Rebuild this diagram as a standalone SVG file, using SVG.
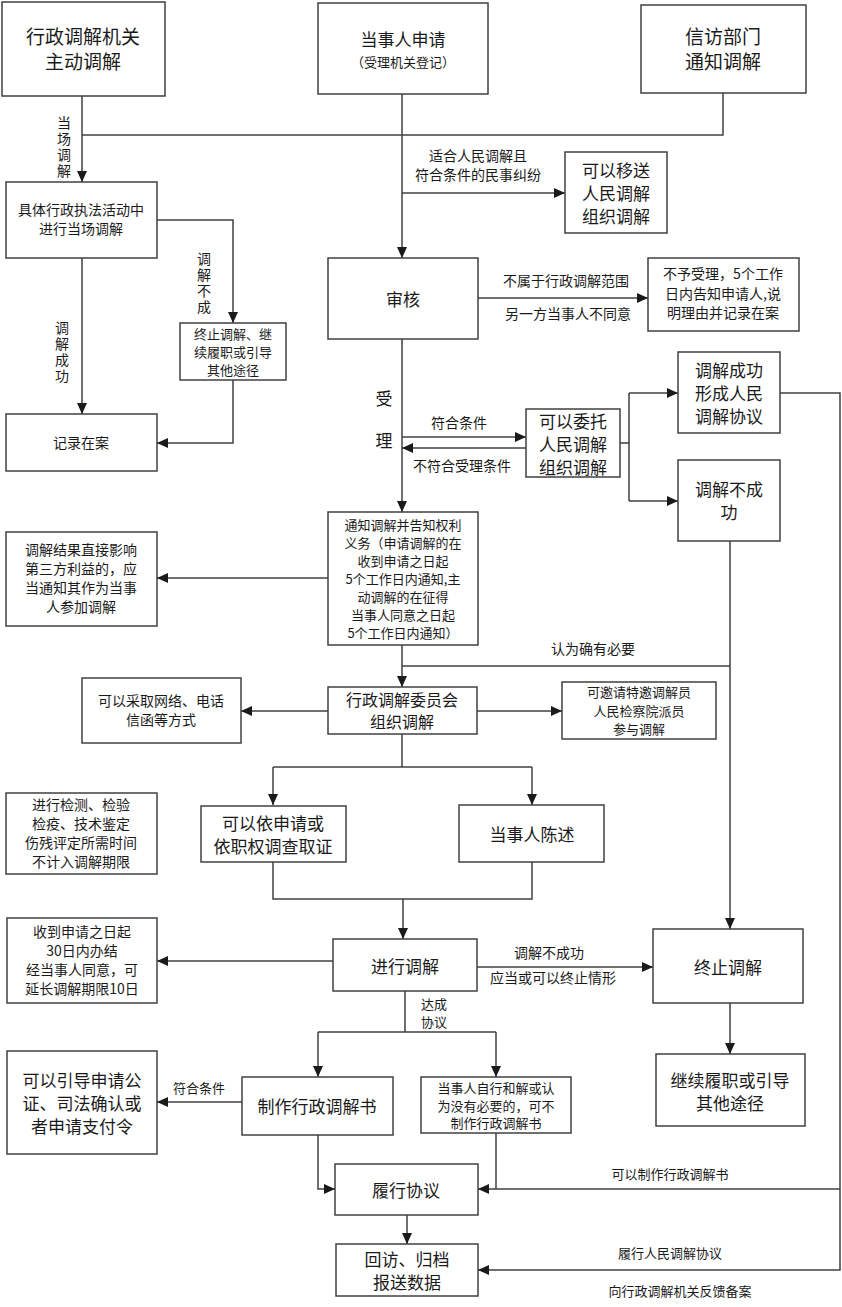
<svg xmlns="http://www.w3.org/2000/svg" width="842" height="1307" viewBox="0 0 842 1307">
<style>
rect{fill:#fff;stroke:#404040;stroke-width:1.5}
text{font-family:"Noto Sans CJK SC","Liberation Sans",sans-serif;fill:#1a1a1a;text-anchor:middle;dominant-baseline:central}
.v{writing-mode:vertical-rl;text-orientation:upright;letter-spacing:2px;dominant-baseline:auto}
.c path{fill:none;stroke:#404040;stroke-width:1.5}
.a{marker-end:url(#ah)}
.f20{font-size:19px}
.f18{font-size:17px}
.f16{font-size:16px}
.f15{font-size:14px}
.f14{font-size:13px}
</style>
<defs>
<marker id="ah" markerUnits="userSpaceOnUse" markerWidth="11" markerHeight="10" refX="11" refY="5" orient="auto">
<path d="M0,0 L11,5 L0,10 z" fill="#1a1a1a"/>
</marker>
</defs>
<rect x="0" y="0" width="842" height="1307" style="stroke:none"/>

<g class="c" id="connectors">
<path class="a" d="M82,96 V182"/>
<path d="M723,93 V135 H82"/>
<path class="a" d="M402,94 V258"/>
<path class="a" d="M402,193 H565"/>
<path class="a" d="M157,220 H233 V323"/>
<path class="a" d="M82,258 V414"/>
<path class="a" d="M233,380 V443 H157"/>
<path class="a" d="M478,298 H648"/>
<path class="a" d="M402,339 V512"/>
<path class="a" d="M402,437 H526"/>
<path class="a" d="M526,448 H402"/>
<path d="M620,443 H629 M629,393 V501"/>
<path class="a" d="M629,393 H678"/>
<path class="a" d="M629,501 H678"/>
<path class="a" d="M780,393 H840 V1270 H478"/>
<path class="a" d="M840,1189 H478"/>
<path class="a" d="M730,541 V929"/>
<path d="M730,666 H402"/>
<path class="a" d="M328,578 H157"/>
<path class="a" d="M402,645 V687"/>
<path class="a" d="M328,711 H241"/>
<path class="a" d="M477,711 H562"/>
<path d="M402,734 V767 M273,767 H532"/>
<path class="a" d="M273,767 V805"/>
<path class="a" d="M532,767 V805"/>
<path d="M273,862 V899 H532 V862"/>
<path class="a" d="M403,899 V939"/>
<path class="a" d="M333,961 H157"/>
<path class="a" d="M477,967 H653"/>
<path class="a" d="M730,1003 V1054"/>
<path d="M405,991 V1032 M318,1032 H496"/>
<path class="a" d="M318,1032 V1077"/>
<path class="a" d="M496,1032 V1077"/>
<path class="a" d="M242,1102 H157"/>
<path class="a" d="M318,1135 V1189 H335"/>
<path d="M496,1133 V1189"/>
<path class="a" d="M407,1215 V1244"/>
</g>

<g id="edge-labels">
<text class="f15 v" x="64" y="148">当场调解</text>
<text class="f15 v" x="204" y="284">调解不成</text>
<text class="f15 v" x="62" y="353">调解成功</text>
<text class="f15"><tspan x="478" y="155">适合人民调解且</tspan><tspan x="478" y="174">符合条件的民事纠纷</tspan></text>
<text class="f15" x="566" y="280">不属于行政调解范围</text>
<text class="f15" x="568" y="313">另一方当事人不同意</text>
<text class="f18" x="384" y="397">受</text>
<text class="f18" x="384" y="439">理</text>
<text class="f15" x="459" y="422">符合条件</text>
<text class="f15" x="462" y="465">不符合受理条件</text>
<text class="f15" x="593" y="648">认为确有必要</text>
<text class="f15" x="549" y="952">调解不成功</text>
<text class="f15" x="553" y="977">应当或可以终止情形</text>
<text class="f14"><tspan x="434" y="1003">达成</tspan><tspan x="434" y="1021">协议</tspan></text>
<text class="f14" x="199" y="1087">符合条件</text>
<text class="f14" x="670" y="1173">可以制作行政调解书</text>
<text class="f14" x="670" y="1252">履行人民调解协议</text>
<text class="f14" x="680" y="1290">向行政调解机关反馈备案</text>
</g>

<g id="n-xzjg"><rect x="2" y="2" width="163" height="94"/><text class="f20"><tspan x="83" y="35">行政调解机关</tspan><tspan x="83" y="60">主动调解</tspan></text></g>
<g id="n-dsrsq"><rect x="318" y="3" width="170" height="91"/><text class="f18" x="403" y="38">当事人申请</text><text class="f14" x="403" y="61">（受理机关登记）</text></g>
<g id="n-xfbm"><rect x="641" y="5" width="165" height="88"/><text class="f20"><tspan x="723" y="35">信访部门</tspan><tspan x="723" y="60">通知调解</tspan></text></g>
<g id="n-jtxz"><rect x="6" y="182" width="151" height="76"/><text class="f15"><tspan x="81" y="209">具体行政执法活动中</tspan><tspan x="81" y="228">进行当场调解</tspan></text></g>
<g id="n-ksys"><rect x="565" y="152" width="102" height="81"/><text class="f18"><tspan x="616" y="169">可以移送</tspan><tspan x="616" y="192">人民调解</tspan><tspan x="616" y="215">组织调解</tspan></text></g>
<g id="n-sh"><rect x="328" y="258" width="150" height="81"/><text class="f18" x="403" y="298">审核</text></g>
<g id="n-bysl"><rect x="648" y="258" width="151" height="73"/><text class="f15"><tspan x="723" y="273">不予受理，5个工作</tspan><tspan x="723" y="293">日内告知申请人,说</tspan><tspan x="723" y="312">明理由并记录在案</tspan></text></g>
<g id="n-zztj"><rect x="180" y="323" width="106" height="57"/><text class="f14"><tspan x="233" y="333">终止调解、继</tspan><tspan x="233" y="351">续履职或引导</tspan><tspan x="233" y="369">其他途径</tspan></text></g>
<g id="n-jlza"><rect x="6" y="414" width="151" height="57"/><text class="f15" x="81" y="442">记录在案</text></g>
<g id="n-tjcg"><rect x="678" y="352" width="102" height="81"/><text class="f18"><tspan x="729" y="369">调解成功</tspan><tspan x="729" y="392">形成人民</tspan><tspan x="729" y="415">调解协议</tspan></text></g>
<g id="n-kywt"><rect x="526" y="409" width="94" height="68"/><text class="f18"><tspan x="573" y="420">可以委托</tspan><tspan x="573" y="443">人民调解</tspan><tspan x="573" y="466">组织调解</tspan></text></g>
<g id="n-tjbcg"><rect x="678" y="460" width="102" height="81"/><text class="f18"><tspan x="729" y="488">调解不成</tspan><tspan x="729" y="511">功</tspan></text></g>
<g id="n-tzjj"><rect x="328" y="512" width="150" height="133"/>
<text class="f14"><tspan x="403" y="524">通知调解并告知权利</tspan><tspan x="403" y="542">义务（申请调解的在</tspan><tspan x="403" y="560">收到申请之日起</tspan><tspan x="403" y="578">5个工作日内通知,主</tspan><tspan x="403" y="596">动调解的在征得</tspan><tspan x="403" y="614">当事人同意之日起</tspan><tspan x="403" y="632">5个工作日内通知）</tspan></text></g>
<g id="n-dsf"><rect x="6" y="532" width="151" height="94"/><text class="f15"><tspan x="81" y="549">调解结果直接影响</tspan><tspan x="81" y="568">第三方利益的，应</tspan><tspan x="81" y="587">当通知其作为当事</tspan><tspan x="81" y="606">人参加调解</tspan></text></g>
<g id="n-wyh"><rect x="328" y="687" width="149" height="47"/><text class="f16"><tspan x="402" y="699">行政调解委员会</tspan><tspan x="402" y="721">组织调解</tspan></text></g>
<g id="n-wl"><rect x="82" y="678" width="159" height="65"/><text class="f15"><tspan x="161" y="700">可以采取网络、电话</tspan><tspan x="161" y="719">信函等方式</tspan></text></g>
<g id="n-yq"><rect x="562" y="682" width="154" height="57"/><text class="f14"><tspan x="639" y="691">可邀请特邀调解员</tspan><tspan x="639" y="710">人民检察院派员</tspan><tspan x="639" y="728">参与调解</tspan></text></g>
<g id="n-dc"><rect x="201" y="806" width="145" height="56"/><text class="f18"><tspan x="273" y="822">可以依申请或</tspan><tspan x="273" y="845">依职权调查取证</tspan></text></g>
<g id="n-jc"><rect x="6" y="793" width="151" height="81"/><text class="f15"><tspan x="81" y="804">进行检测、检验</tspan><tspan x="81" y="823">检疫、技术鉴定</tspan><tspan x="81" y="842">伤残评定所需时间</tspan><tspan x="81" y="861">不计入调解期限</tspan></text></g>
<g id="n-cs"><rect x="459" y="805" width="145" height="57"/><text class="f18" x="532" y="833">当事人陈述</text></g>
<g id="n-jxtj"><rect x="333" y="939" width="144" height="52"/><text class="f18" x="405" y="965">进行调解</text></g>
<g id="n-30r"><rect x="7" y="918" width="150" height="85"/><text class="f15"><tspan x="82" y="931">收到申请之日起</tspan><tspan x="82" y="950">30日内办结</tspan><tspan x="82" y="969">经当事人同意，可</tspan><tspan x="82" y="988">延长调解期限10日</tspan></text></g>
<g id="n-zz"><rect x="653" y="929" width="150" height="74"/><text class="f18" x="728" y="966">终止调解</text></g>
<g id="n-jxlz"><rect x="656" y="1054" width="149" height="72"/><text class="f18"><tspan x="730" y="1079">继续履职或引导</tspan><tspan x="730" y="1102">其他途径</tspan></text></g>
<g id="n-zzs"><rect x="242" y="1077" width="151" height="58"/><text class="f18" x="317" y="1105">制作行政调解书</text></g>
<g id="n-gz"><rect x="7" y="1051" width="150" height="103"/><text class="f18"><tspan x="82" y="1079">可以引导申请公</tspan><tspan x="82" y="1102">证、司法确认或</tspan><tspan x="82" y="1125">者申请支付令</tspan></text></g>
<g id="n-zxhj"><rect x="421" y="1077" width="150" height="56"/><text class="f14"><tspan x="496" y="1087">当事人自行和解或认</tspan><tspan x="496" y="1105">为没有必要的，可不</tspan><tspan x="496" y="1122">制作行政调解书</tspan></text></g>
<g id="n-lx"><rect x="335" y="1164" width="143" height="51"/><text class="f18" x="406" y="1189">履行协议</text></g>
<g id="n-hf"><rect x="336" y="1244" width="142" height="52"/><text class="f18"><tspan x="407" y="1258">回访、归档</tspan><tspan x="407" y="1281">报送数据</tspan></text></g>
</svg>
